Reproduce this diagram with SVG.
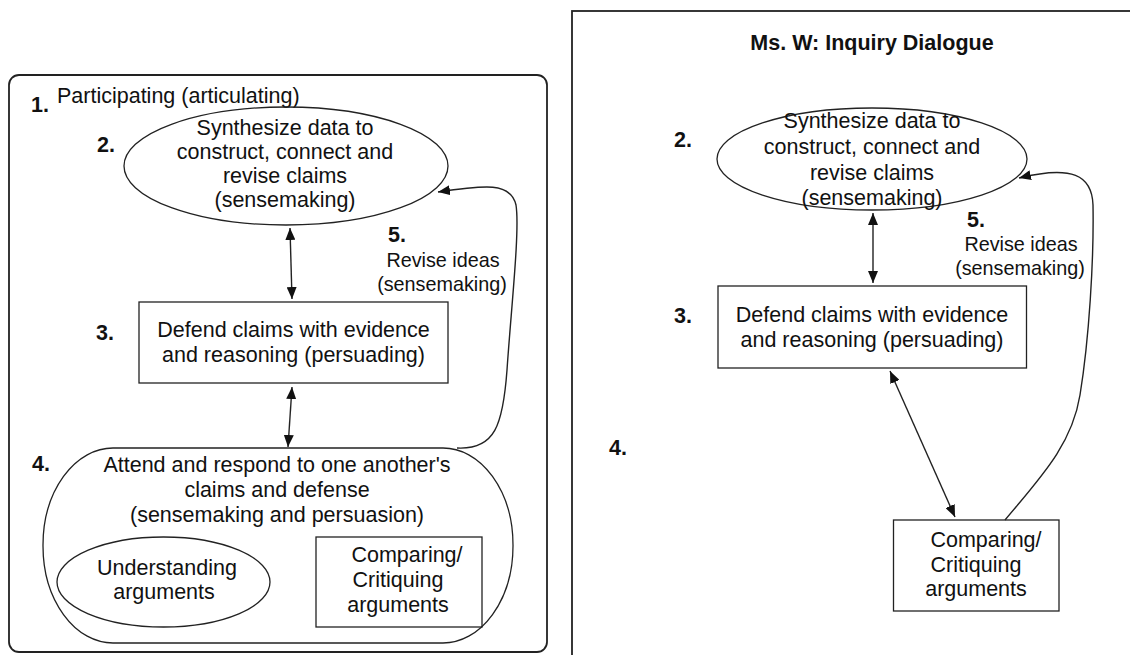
<svg xmlns="http://www.w3.org/2000/svg" width="1130" height="655" viewBox="0 0 1130 655">
  <defs>
    <marker id="arrow" viewBox="0 0 12 10" markerWidth="12" markerHeight="10" refX="12" refY="5" orient="auto-start-reverse" markerUnits="userSpaceOnUse">
      <path d="M0,0 L12,5 L0,10 z" fill="#111"/>
    </marker>
    <style>
      .panel { fill: #fff; stroke: #222; stroke-width: 1.8; }
      .shape { fill: none; stroke: #222; stroke-width: 1.3; }
      .link { fill: none; stroke: #222; stroke-width: 1.4; }
      .t { font-family: "Liberation Sans", Arial, sans-serif; font-size: 21.5px; fill: #111; text-anchor: middle; }
      .ts { font-family: "Liberation Sans", Arial, sans-serif; font-size: 19.8px; fill: #111; text-anchor: middle; }
      .num { font-family: "Liberation Sans", Arial, sans-serif; font-size: 21.5px; font-weight: bold; fill: #111; }
      .title { font-family: "Liberation Sans", Arial, sans-serif; font-size: 21.5px; font-weight: bold; fill: #111; text-anchor: middle; }
    </style>
  </defs>
  <rect width="1130" height="655" fill="#fff"/>

  <!-- Left panel: general participation model -->
  <g id="left-panel">
    <rect class="panel" x="9" y="75" width="538" height="577" rx="10" ry="10"/>
    <text class="num" x="31" y="112">1.</text>
    <text class="t" x="57" y="103" style="text-anchor:start">Participating (articulating)</text>
  </g>

  <g id="left-synthesize">
    <ellipse class="shape" cx="286" cy="166" rx="162" ry="59"/>
    <text class="num" x="97" y="152">2.</text>
    <text class="t" x="285" y="135">Synthesize data to</text>
    <text class="t" x="285" y="159">construct, connect and</text>
    <text class="t" x="285" y="183">revise claims</text>
    <text class="t" x="285" y="207">(sensemaking)</text>
  </g>

  <g id="left-defend">
    <rect class="shape" x="139" y="302" width="309" height="81"/>
    <text class="num" x="96" y="340">3.</text>
    <text class="t" x="293.5" y="337">Defend claims with evidence</text>
    <text class="t" x="293.5" y="362">and reasoning (persuading)</text>
  </g>

  <g id="left-attend">
    <rect class="shape" x="43" y="448" width="470" height="195" rx="70" ry="97"/>
    <text class="num" x="32" y="471">4.</text>
    <text class="t" x="277" y="472">Attend and respond to one another's</text>
    <text class="t" x="277" y="497">claims and defense</text>
    <text class="t" x="277" y="522">(sensemaking and persuasion)</text>
  </g>

  <g id="left-understanding">
    <ellipse class="shape" cx="163.5" cy="582" rx="106.5" ry="45"/>
    <text class="t" x="167" y="575">Understanding</text>
    <text class="t" x="164" y="599">arguments</text>
  </g>

  <g id="left-comparing">
    <rect class="shape" x="316" y="537" width="166" height="90"/>
    <text class="t" x="407" y="562">Comparing/</text>
    <text class="t" x="398" y="587">Critiquing</text>
    <text class="t" x="398" y="612">arguments</text>
  </g>

  <g id="left-revise-label">
    <text class="num" x="388" y="242">5.</text>
    <text class="ts" x="443" y="267">Revise ideas</text>
    <text class="ts" x="442" y="291">(sensemaking)</text>
  </g>

  <!-- Right panel: Ms. W classroom -->
  <g id="right-panel">
    <rect class="panel" x="572" y="11" width="580" height="660"/>
    <text class="title" x="872" y="50">Ms. W: Inquiry Dialogue</text>
    <text class="num" x="609" y="455">4.</text>
  </g>

  <g id="right-synthesize">
    <ellipse class="shape" cx="872" cy="159" rx="155" ry="51"/>
    <text class="num" x="674" y="147">2.</text>
    <text class="t" x="872" y="128">Synthesize data to</text>
    <text class="t" x="872" y="154">construct, connect and</text>
    <text class="t" x="872" y="180">revise claims</text>
    <text class="t" x="872" y="205">(sensemaking)</text>
  </g>

  <g id="right-defend">
    <rect class="shape" x="718" y="286" width="308.5" height="82"/>
    <text class="num" x="674" y="323">3.</text>
    <text class="t" x="872" y="322">Defend claims with evidence</text>
    <text class="t" x="872" y="347">and reasoning (persuading)</text>
  </g>

  <g id="right-comparing">
    <rect class="shape" x="893.5" y="520" width="165.5" height="91"/>
    <text class="t" x="986" y="547">Comparing/</text>
    <text class="t" x="976" y="572">Critiquing</text>
    <text class="t" x="976" y="596">arguments</text>
  </g>

  <g id="right-revise-label">
    <text class="num" x="967" y="227">5.</text>
    <text class="ts" x="1021" y="251">Revise ideas</text>
    <text class="ts" x="1020" y="275">(sensemaking)</text>
  </g>

  <!-- Connectors -->
  <g id="connectors">
    <line class="link" x1="290" y1="228" x2="292" y2="299" marker-start="url(#arrow)" marker-end="url(#arrow)"/>
    <line class="link" x1="292" y1="387" x2="288" y2="447" marker-start="url(#arrow)" marker-end="url(#arrow)"/>
    <path class="link" d="M457,448 C495,450 503,425 507,370 C511,310 520,230 516,205 C511,182 485,185 438,192" marker-end="url(#arrow)"/>

    <line class="link" x1="873" y1="213" x2="873" y2="283" marker-start="url(#arrow)" marker-end="url(#arrow)"/>
    <line class="link" x1="890" y1="371" x2="955" y2="517" marker-start="url(#arrow)" marker-end="url(#arrow)"/>
    <path class="link" d="M1005,520 C1040,478 1072,445 1080,395 C1089,340 1094,260 1093,205 C1092,175 1072,165 1019,178" marker-end="url(#arrow)"/>
  </g>
</svg>
